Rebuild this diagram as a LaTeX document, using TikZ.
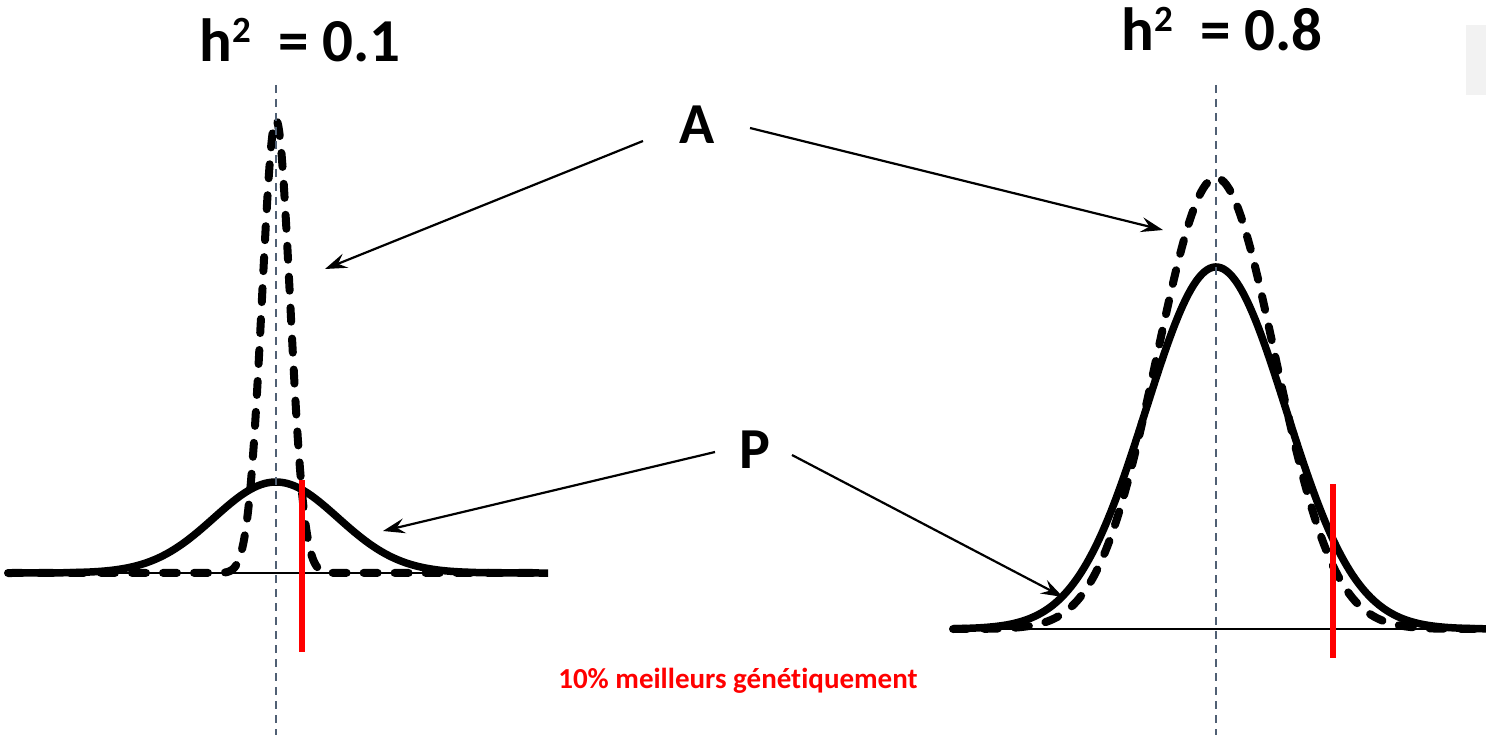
\documentclass[tikz,border=0pt]{standalone}
\usepackage{fontspec}
\setmainfont{Carlito}[Ligatures=NoCommon]
\usetikzlibrary{arrows.meta}
\definecolor{slate}{RGB}{80,96,116}
\definecolor{panelgray}{RGB}{242,242,242}
\newcommand{\sqexp}{\raisebox{19pt}{\fontsize{37}{37}\selectfont 2}}
\begin{document}
\begin{tikzpicture}[x=1pt,y=-1pt,
  axisline/.style={line width=1.2pt},
  meanline/.style={draw=slate,line width=2.5pt,dash pattern=on 8pt off 6pt},
  phenocurve/.style={line width=7.5pt,line join=round},
  genocurve/.style={line width=8pt,dash pattern=on 14pt off 17pt,line cap=round,line join=round},
  cutline/.style={draw=red,line width=6pt},
  pointer/.style={line width=2.2pt,-{Stealth[length=22pt,width=15pt,inset=8pt]}},
  lbl/.style={font=\bfseries\fontsize{58}{60}\selectfont,inner sep=0pt},
  heading/.style={font=\bfseries\fontsize{61}{63}\selectfont,inner sep=0pt}]
\useasboundingbox (0,0) rectangle (1486,735);

% light panel at the top right corner
\fill[panelgray] (1466,25) rectangle (1486,95);

% ---- left panel: h^2 = 0.1 ----
\draw[axisline] (8,573) -- (548,573);
% phenotypic distribution (wide)
\draw[phenocurve] (8,573) -- plot[domain=-4.3:4.3,samples=160] ({276+62*\x},{573-91*exp(-\x*\x/2)}) -- (548,573);
% additive genetic distribution (narrow)
\draw[genocurve] (8,573) -- plot[domain=-4:4,samples=200] ({276+14*\x},{573-453*exp(-\x*\x/2)}) -- (548,573);

% ---- right panel: h^2 = 0.8 ----
\draw[axisline] (953,629) -- (1486,629);
\draw[phenocurve] plot[domain=-3.757:3.857,samples=200] ({1216+70*\x},{629-362*exp(-\x*\x/2)});
\draw[genocurve] (953,629) -- plot[domain=-4:4,samples=200] ({1216+59*\x},{629-451*exp(-\x*\x/2)}) -- (1486,629);

% mean lines
\draw[meanline] (276,85) -- (276,735);
\draw[meanline] (1216,85) -- (1216,735);

% selection thresholds
\draw[cutline] (302,480) -- (302,652);
\draw[cutline] (1333,484) -- (1333,658);

% titles and labels
\node[heading] (t1) at (300,40) {h\sqexp\ \ = 0.1};
\node[heading] (t2) at (1222,29) {h\sqexp\ \ = 0.8};
\node[lbl] (A) at (697,125) {A};
\node[lbl] (P) at (755,450) {P};
\node[font=\bfseries\fontsize{29}{31}\selectfont,text=red,inner sep=0pt] (sel) at (738,681) {10\% meilleurs génétiquement};

% pointer ends
\coordinate (A-l) at ([shift={(-54,16)}]A.center);
\coordinate (A-r) at ([shift={(53,3)}]A.center);
\coordinate (P-l) at ([shift={(-40,2)}]P.center);
\coordinate (P-r) at ([shift={(37,5)}]P.center);
\coordinate (gA1) at (325,269);
\coordinate (gA2) at (1163,230);
\coordinate (gP1) at (383,531);
\coordinate (gP2) at (1063,597);

\draw[pointer] (A-l) -- (gA1);
\draw[pointer] (A-r) -- (gA2);
\draw[pointer] (P-l) -- (gP1);
\draw[pointer] (P-r) -- (gP2);
\end{tikzpicture}
\end{document}
